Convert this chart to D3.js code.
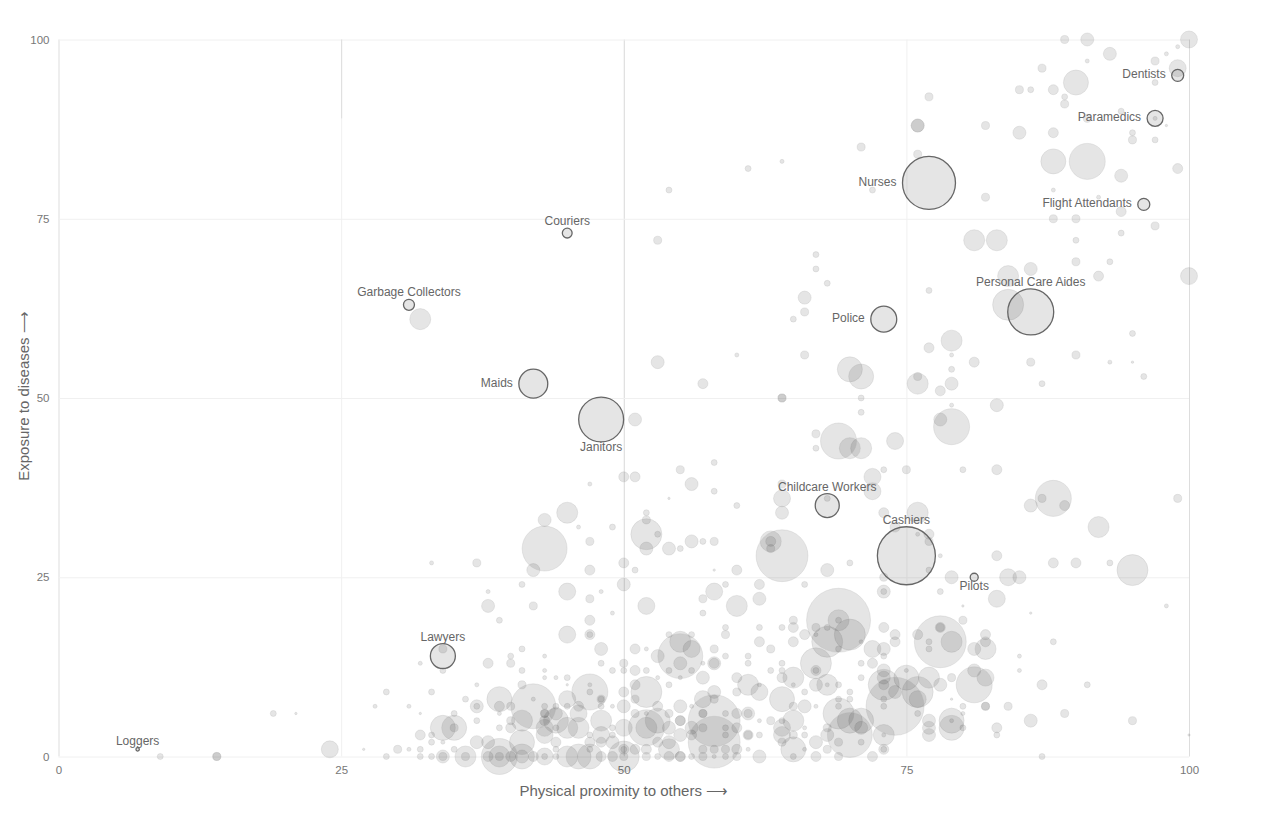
<!DOCTYPE html>
<html>
<head>
<meta charset="utf-8">
<script src="https://cdn.jsdelivr.net/npm/d3@7"></script>
<style>
  body { margin: 0; background: #fff; }
  text { font-family: "Liberation Sans", Arial, sans-serif; }
  .tick text { font-size: 11.5px; fill: #777; }
  .axis-title { font-size: 15px; fill: #666; }
  .job-label { font-size: 12px; fill: #666; }
</style>
</head>
<body>
<svg width="1271" height="835"></svg>
<script>
const xTicks = [0, 25, 50, 75, 100];
const yTicks = [0, 25, 50, 75, 100];

// labelled jobs
const jobNames = ["Dentists", "Paramedics", "Nurses", "Flight Attendants", "Couriers", "Garbage Collectors", "Personal Care Aides", "Police", "Maids", "Janitors", "Childcare Workers", "Cashiers", "Pilots", "Lawyers", "Loggers"];
const jobProximity = [99, 97, 77, 96, 45, 31, 86, 73, 42, 48, 68, 75, 81, 34, 7];
const jobExposure = [95, 89, 80, 77, 73, 63, 62, 61, 52, 47, 35, 28, 25, 14, 1];
const jobWorkers = [150, 266, 2920, 150, 100, 126, 2200, 700, 870, 2100, 600, 3500, 67, 650, 12];
const jobLabelSide = ["left", "left", "left", "left", "top", "top", "top", "left", "left", "bottom", "top", "top", "bottom", "top", "top"];

// every other job: [proximity, exposure], grouped by rough workforce (thousands)
const bandWorkers = [6, 17, 37, 67, 104, 176, 300, 460, 650, 1000, 1350, 2100, 2800, 3500, 4260];
const band0 = [[32,6],[21,6],[27,1],[58,26],[54,36],[45,10],[80,21],[86,20],[79,8],[98,88],[100,3],[95,55]];
const band1 = [[99,99],[98,98],[91,97],[97,89],[88,79],[92,78],[60,56],[79,56],[93,55],[79,49],[76,31],[78,28],[98,21],[71,16],[67,17],[62,10],[75,12],[65,10],[68,10],[67,7],[79,5],[73,3],[66,4],[66,1],[62,5],[61,1],[52,15],[57,13],[55,11],[53,11],[52,6],[58,0],[49,20],[48,23],[47,38],[46,32],[33,27],[38,23],[34,2],[39,6],[47,10],[49,7],[43,14],[43,12],[43,11],[44,11],[37,10],[28,7],[31,7],[31,1],[32,13],[80,6],[85,14],[85,12],[64,83],[56,7],[42,8]];
const band2 = [[97,94],[86,93],[89,92],[94,90],[97,86],[95,87],[72,79],[61,82],[54,79],[94,73],[90,72],[67,70],[67,68],[68,66],[77,65],[65,61],[93,69],[95,59],[71,50],[71,48],[67,43],[79,54],[96,53],[87,52],[73,40],[80,40],[93,27],[70,27],[78,23],[73,23],[77,26],[69,19],[57,20],[64,18],[62,18],[59,18],[68,18],[69,15],[73,14],[61,14],[61,13],[59,14],[67,12],[64,13],[64,12],[63,12],[71,13],[71,11],[69,10],[66,9],[70,9],[70,8],[69,8],[69,7],[73,8],[73,7],[76,6],[80,7],[80,4],[83,3],[73,1],[71,2],[66,3],[65,0],[64,5],[62,3],[68,36],[77,16],[77,15],[88,16],[91,10],[87,0],[66,24],[59,24],[58,41],[58,37],[60,35],[49,32],[51,26],[52,34],[53,31],[55,29],[57,30],[41,24],[39,19],[54,17],[56,17],[47,17],[41,15],[40,14],[41,12],[48,13],[50,12],[44,7],[45,11],[36,8],[33,9],[37,7],[35,6],[37,5],[39,4],[33,3],[33,2],[32,1],[35,1],[29,0],[32,0],[33,0],[34,12],[29,9],[19,6],[9,0],[48,7],[48,8],[45,7],[43,7],[44,4],[47,3],[47,1],[49,4],[49,3],[50,1],[49,12],[52,12],[54,12],[54,10],[56,12],[59,6],[59,4],[59,3],[53,0],[56,0],[59,0],[43,0],[44,0],[44,1],[47,9]];
const band3 = [[89,100],[97,97],[87,96],[85,93],[89,91],[77,92],[91,89],[82,88],[95,86],[76,84],[71,85],[82,78],[88,75],[90,75],[97,74],[53,72],[90,69],[66,62],[66,56],[86,55],[90,56],[76,53],[67,45],[64,50],[64,50],[75,40],[87,36],[99,36],[77,30],[73,25],[80,19],[65,19],[67,18],[59,17],[58,15],[63,15],[60,9],[78,18],[84,7],[89,6],[95,5],[79,11],[82,7],[82,7],[57,6],[57,6],[54,6],[64,2],[69,2],[68,4],[68,1],[69,0],[65,3],[65,7],[58,8],[58,1],[59,1],[57,1],[60,0],[57,4],[57,0],[52,0],[50,13],[55,40],[47,30],[57,22],[58,30],[52,33],[42,21],[37,27],[47,22],[34,15],[40,13],[41,10],[40,5],[43,6],[43,6],[40,7],[30,1],[34,0],[14,0],[14,0],[48,8],[64,38],[63,29],[61,6],[61,3],[63,5],[51,8],[51,6],[50,0],[35,4],[36,0],[39,0]];
const band4 = [[88,93],[99,82],[88,87],[94,76],[92,67],[77,57],[57,52],[78,51],[81,55],[83,40],[73,34],[77,31],[74,32],[83,28],[88,27],[90,27],[89,35],[60,26],[62,24],[50,39],[51,39],[47,26],[50,27],[47,19],[47,17],[74,17],[74,16],[73,18],[76,17],[66,17],[62,16],[65,16],[65,18],[58,13],[64,11],[60,11],[67,12],[72,13],[73,10],[67,0],[72,0],[73,1],[83,4],[87,10],[82,17],[82,16],[78,18],[53,7],[51,10],[51,12],[50,9],[55,5],[55,5],[56,3],[60,6],[60,4],[60,1],[53,2],[52,1],[51,1],[50,1],[54,0],[55,0],[55,0],[63,30],[51,15],[46,7],[38,13],[39,7],[32,3],[38,0],[40,0],[42,0],[44,2],[47,2],[48,2],[49,0],[48,0],[40,4],[43,5],[61,3]];
const band5 = [[91,100],[93,98],[76,88],[76,88],[85,87],[94,81],[66,64],[53,55],[86,68],[79,52],[78,47],[83,49],[51,47],[86,35],[68,26],[79,25],[85,25],[73,23],[62,22],[38,21],[42,26],[43,33],[56,38],[52,29],[54,29],[56,30],[64,34],[50,24],[48,15],[73,15],[81,15],[81,12],[71,4],[77,5],[77,4],[77,3],[86,5],[74,9],[73,11],[73,12],[68,3],[67,2],[62,0],[61,6],[57,11],[55,13],[58,13],[53,14],[66,7],[67,10],[58,9],[55,7],[50,7],[54,4],[55,3],[56,4],[54,2],[49,2],[44,6],[41,0],[37,7],[37,2],[38,2],[34,0],[78,10]];
const band6 = [[100,100],[99,96],[100,67],[74,44],[72,39],[72,37],[84,25],[83,22],[64,36],[58,23],[52,21],[45,23],[45,17],[24,1],[62,9],[57,8],[64,4],[64,3],[72,15],[82,11],[76,8],[50,4],[43,4],[43,3],[43,0],[46,6],[48,3],[45,8],[56,15]];
const band7 = [[81,72],[83,72],[79,58],[71,43],[70,43],[84,67],[32,61],[76,52],[76,34],[92,32],[45,34],[60,21],[63,30],[69,19],[55,16],[61,10],[65,11],[68,10],[65,5],[73,3],[77,11],[79,16],[82,15],[54,1],[52,4],[41,5],[45,0],[45,4],[46,4],[48,5],[39,0],[36,0]];
const band8 = [[90,94],[88,83],[70,54],[71,53],[64,8],[75,11],[70,5],[71,5],[79,5],[79,4],[65,1],[53,5],[34,4],[35,4],[39,8],[41,0],[41,2],[46,0],[47,0],[44,5]];
const band9 = [[84,63],[95,26],[52,31],[70,17],[68,16],[67,13],[69,6],[73,10],[76,9],[52,9],[50,0]];
const band10 = [[91,83],[79,46],[69,44],[88,36],[81,10],[47,9],[52,4],[39,0]];
const band11 = [[43,29],[55,14],[42,7],[70,3]];
const band12 = [[64,28],[78,16],[58,5],[58,2]];
const band13 = [[74,7]];
const band14 = [[69,19]];

const bands = [band0, band1, band2, band3, band4, band5, band6, band7, band8, band9, band10, band11, band12, band13, band14];
const others = bands.flatMap((band, i) => band.map((d) => ({ x: d[0], y: d[1], workers: bandWorkers[i] })));
const jobs = jobNames.map((name, i) => ({ name, x: jobProximity[i], y: jobExposure[i], workers: jobWorkers[i], side: jobLabelSide[i] }));

const svg = d3.select("svg");

const x = d3.scaleLinear().domain([0, 100]).range([58.5, 1189]);
const y = d3.scaleLinear().domain([0, 100]).range([756.5, 39.5]);
const r = d3.scaleSqrt().domain([0, 3500]).range([0, 29]);

// grid lines are just the ticks stretched over the plot
const xAxis = svg.append("g")
  .attr("transform", "translate(0,756.5)")
  .call(d3.axisBottom(x).tickValues(xTicks).tickSize(-717).tickPadding(9));
const yAxis = svg.append("g")
  .attr("transform", "translate(58.5,0)")
  .call(d3.axisLeft(y).tickValues(yTicks).tickSize(-1130.5).tickPadding(9));

svg.selectAll(".domain").remove();
yAxis.selectAll("line").attr("stroke", "#f0f0f0");
xAxis.selectAll("line").attr("stroke", (d) => (d === 0 || d === 100 ? "#ddd" : d === 50 ? "#d8d8d8" : "#f0f0f0"));

// the 25 line is darker near the top
svg.append("line")
  .attr("x1", x(25) + 0.5).attr("x2", x(25) + 0.5)
  .attr("y1", y(100)).attr("y2", y(89))
  .attr("stroke", "#ddd");

svg.append("g")
  .selectAll("circle")
  .data(others)
  .join("circle")
  .attr("cx", (d) => x(d.x))
  .attr("cy", (d) => y(d.y))
  .attr("r", (d) => r(d.workers))
  .attr("fill", "#000")
  .attr("fill-opacity", 0.1)
  .attr("stroke", "#aaa")
  .attr("stroke-opacity", 0.25);

svg.append("g")
  .selectAll("circle")
  .data(jobs)
  .join("circle")
  .attr("cx", (d) => x(d.x))
  .attr("cy", (d) => y(d.y))
  .attr("r", (d) => r(d.workers))
  .attr("fill", "#000")
  .attr("fill-opacity", 0.1)
  .attr("stroke", "#666")
  .attr("stroke-width", 1.3);

svg.append("g")
  .selectAll("text")
  .data(jobs)
  .join("text")
  .attr("class", "job-label")
  .attr("text-anchor", (d) => (d.side === "left" ? "end" : "middle"))
  .attr("x", (d) => (d.side === "left" ? x(d.x) - r(d.workers) - 6 : x(d.x)))
  .attr("y", (d) => {
    if (d.side === "left") return y(d.y) + 3;
    if (d.side === "top") return y(d.y) - r(d.workers) - 3;
    return y(d.y) + r(d.workers) + 9;
  })
  .text((d) => d.name);

svg.append("text")
  .attr("class", "axis-title")
  .attr("text-anchor", "middle")
  .attr("x", x(50))
  .attr("y", 796)
  .text("Physical proximity to others ⟶");

svg.append("text")
  .attr("class", "axis-title")
  .attr("text-anchor", "middle")
  .attr("transform", "translate(29," + (y(50) - 2) + ") rotate(-90)")
  .text("Exposure to diseases ⟶");
</script>
</body>
</html>
